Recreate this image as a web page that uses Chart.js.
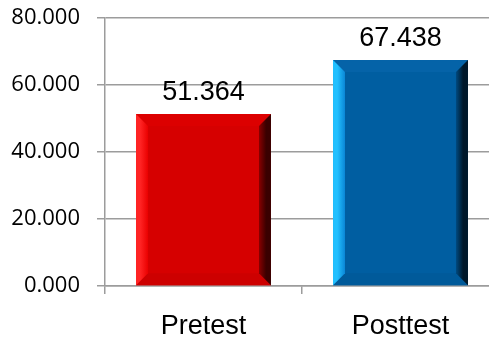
<!DOCTYPE html>
<html>
<head>
<meta charset="utf-8">
<script src="https://cdn.jsdelivr.net/npm/chart.js@4/dist/chart.umd.min.js"></script>
<style>
  html, body { margin: 0; padding: 0; overflow: hidden; background: #ffffff; }
  #wrap { position: relative; width: 500px; height: 343px; }
</style>
</head>
<body>
<div id="wrap"><canvas id="chart" width="500" height="343"></canvas></div>
<script>
// Test scores
const categories = ['Pretest', 'Posttest'];
const scores = [51.364, 67.438];
const yTickValues = [0, 20, 40, 60, 80];

// Bar face colours and their bevel shades
const faceColors = ['#d60000', '#005ea1'];
const bevelShades = [
  { top: '#dc0000', left: ['#ff2424', '#ea0000'], right: ['#8a0000', '#3a0000'], bottom: '#cd0000' },
  { top: '#0563a8', left: ['#22c0ff', '#0a86d6'], right: ['#004a80', '#00182a'], bottom: '#005a9a' }
];

const gridGray = '#9c9c9c';
const labelFont = '27px "Liberation Sans", Arial, sans-serif';

// Draws the beveled frame on every bar, then the value above it
const bevelAndLabels = {
  id: 'bevelAndLabels',
  afterDatasetsDraw(chart) {
    const ctx = chart.ctx;
    const meta = chart.getDatasetMeta(0);
    meta.data.forEach((bar, i) => {
      const p = bar.getProps(['x', 'y', 'base', 'width'], true);
      const L = p.x - p.width / 2, R = p.x + p.width / 2;
      const T = Math.min(p.y, p.base), B = Math.max(p.y, p.base);
      const w = 12;
      const s = bevelShades[i];
      ctx.save();
      // top
      ctx.beginPath();
      ctx.moveTo(L, T); ctx.lineTo(R, T); ctx.lineTo(R - w, T + w); ctx.lineTo(L + w, T + w); ctx.closePath();
      ctx.fillStyle = s.top; ctx.fill();
      // bottom
      ctx.beginPath();
      ctx.moveTo(L, B); ctx.lineTo(R, B); ctx.lineTo(R - w, B - w); ctx.lineTo(L + w, B - w); ctx.closePath();
      ctx.fillStyle = s.bottom; ctx.fill();
      // left
      let g = ctx.createLinearGradient(L, 0, L + w, 0);
      g.addColorStop(0, s.left[0]); g.addColorStop(0.35, s.left[0]); g.addColorStop(1, s.left[1]);
      ctx.beginPath();
      ctx.moveTo(L, T); ctx.lineTo(L + w, T + w); ctx.lineTo(L + w, B - w); ctx.lineTo(L, B); ctx.closePath();
      ctx.fillStyle = g; ctx.fill();
      // right
      g = ctx.createLinearGradient(R - w, 0, R, 0);
      g.addColorStop(0, s.right[0]); g.addColorStop(0.6, s.right[1]); g.addColorStop(1, s.right[1]);
      ctx.beginPath();
      ctx.moveTo(R, T); ctx.lineTo(R, B); ctx.lineTo(R - w, B - w); ctx.lineTo(R - w, T + w); ctx.closePath();
      ctx.fillStyle = g; ctx.fill();

      // value label
      ctx.fillStyle = '#000000';
      ctx.font = labelFont;
      ctx.textAlign = 'center';
      ctx.textBaseline = 'alphabetic';
      ctx.fillText(scores[i].toFixed(3), p.x, T - 14);
      ctx.restore();
    });
  }
};

new Chart(document.getElementById('chart'), {
  type: 'bar',
  data: {
    labels: categories,
    datasets: [{
      data: scores,
      backgroundColor: faceColors,
      borderWidth: 0,
      categoryPercentage: 1,
      barPercentage: 0.685
    }]
  },
  options: {
    responsive: false,
    animation: false,
    devicePixelRatio: 1,
    layout: { padding: { top: 18, right: 1, left: 0, bottom: 0 } },
    plugins: { legend: { display: false }, tooltip: { enabled: false } },
    scales: {
      x: {
        grid: { display: true, drawOnChartArea: false, drawTicks: true, tickLength: 8, offset: true, color: gridGray, lineWidth: 1.5 },
        border: { display: true, color: gridGray, width: 1.5 },
        ticks: { color: '#000000', padding: 16, font: { family: '"Liberation Sans", Arial, sans-serif', size: 27 } },
        afterFit(scale) { scale.height = 57; scale.paddingLeft = 0; scale.paddingRight = 0; }
      },
      y: {
        min: 0,
        max: 80,
        afterBuildTicks(scale) { scale.ticks = yTickValues.map(v => ({ value: v })); },
        grid: { color: gridGray, lineWidth: 1.5, tickLength: 8 },
        border: { display: true, color: gridGray, width: 1.5 },
        ticks: {
          color: '#000000',
          padding: 17,
          font: { family: '"Open Sans", sans-serif', size: 22 },
          callback: v => Number(v).toFixed(3)
        },
        afterFit(scale) { scale.width = 105; scale.paddingTop = 0; scale.paddingBottom = 0; }
      }
    }
  },
  plugins: [bevelAndLabels]
});
</script>
</body>
</html>
